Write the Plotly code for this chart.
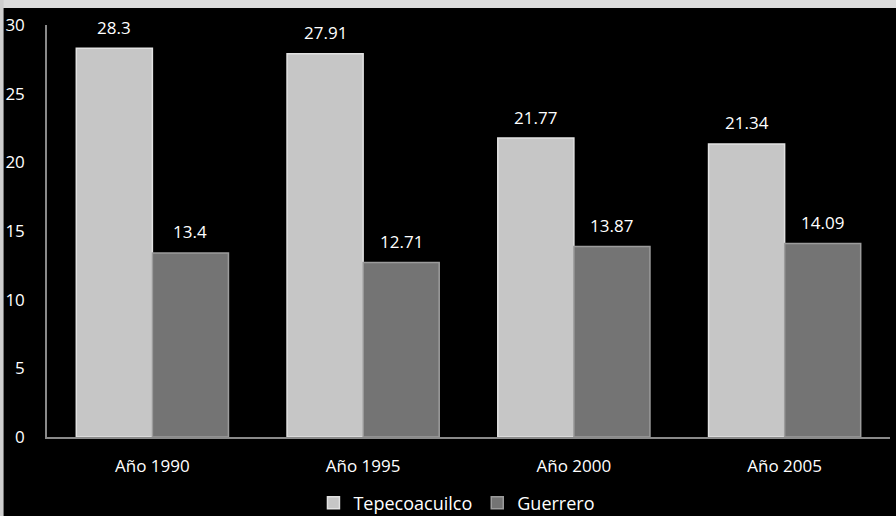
import plotly.graph_objects as go

categories = ["Año 1990", "Año 1995", "Año 2000", "Año 2005"]
tepecoacuilco = [28.3, 27.91, 21.77, 21.34]
guerrero = [13.4, 12.71, 13.87, 14.09]
y_ticks = [0, 5, 10, 15, 20, 25, 30]

FONT = "Open Sans"
BAR_HALF_PX = 38  # half of one bar's width in pixels, used to centre value labels

fig = go.Figure()
fig.add_trace(go.Bar(
    name="Tepecoacuilco", x=categories, y=tepecoacuilco,
    marker=dict(color="#c6c6c6", line=dict(color="#e2e2e2", width=1.5)),
))
fig.add_trace(go.Bar(
    name="Guerrero", x=categories, y=guerrero,
    marker=dict(color="#747474", line=dict(color="#9c9c9c", width=1.5)),
))

# value labels floating above each bar
for values, shift in ((tepecoacuilco, -BAR_HALF_PX), (guerrero, BAR_HALF_PX)):
    for cat, v in zip(categories, values):
        fig.add_annotation(x=cat, y=v, text=f"{v:g}", showarrow=False,
                           xshift=shift, yshift=21, yanchor="middle",
                           font=dict(color="white", size=17, family=FONT))

# light frame strips along the top and left edges of the page
fig.add_shape(type="rect", xref="paper", yref="paper",
              x0=-0.06, x1=1.01, y0=1.0413, y1=1.07,
              fillcolor="#dcdcdc", line=dict(width=0), layer="below")
fig.add_shape(type="rect", xref="paper", yref="paper",
              x0=-0.06, x1=-0.0515, y0=-0.2, y1=1.07,
              fillcolor="#cfcfcf", line=dict(width=0), layer="below")

fig.update_layout(
    width=896, height=516,
    paper_bgcolor="black", plot_bgcolor="black",
    margin=dict(l=47, r=6, t=25, b=79),
    barmode="group", bargap=0.278, bargroupgap=0,
    font=dict(family=FONT, color="white", size=16),
    showlegend=True,
    legend=dict(orientation="h", xref="container", yref="container",
                x=0.51, xanchor="center", y=0.025, yanchor="middle",
                font=dict(size=18, color="white", family=FONT),
                itemwidth=30, traceorder="normal", bgcolor="rgba(0,0,0,0)"),
    xaxis=dict(showgrid=False, showline=True, linecolor="#8a8a8a", linewidth=1.5,
               ticks="", tickfont=dict(size=17, color="white"), ticklabelstandoff=13),
    yaxis=dict(range=[0, 30], tickvals=y_ticks, showgrid=False, zeroline=False,
               showline=True, linecolor="#8a8a8a", linewidth=1.5, ticks="",
               tickfont=dict(size=17, color="white"), ticklabelstandoff=17),
)

fig.write_html("out.html")
